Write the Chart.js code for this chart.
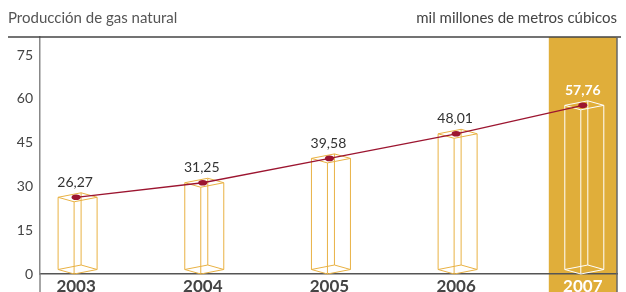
<!DOCTYPE html>
<html>
<head>
<meta charset="utf-8">
<script src="https://cdn.jsdelivr.net/npm/chart.js@4"></script>
<style>
  html, body { margin:0; padding:0; background:#fff; }
  #wrap { position:relative; width:626px; height:292px; }
  #title { position:absolute; left:8px; top:8px; font:15px Lato, sans-serif; color:#555; white-space:nowrap; }
  #unit { position:absolute; right:9px; top:8px; font:15px Lato, sans-serif; color:#444; white-space:nowrap; }
</style>
</head>
<body>
<div id="wrap">
  <div id="title">Producción de gas natural</div>
  <div id="unit">mil millones de metros cúbicos</div>
  <canvas id="chart" width="626" height="292"></canvas>
</div>
<script>
// datos
const years = [2003, 2004, 2005, 2006, 2007];
const gas = [26.27, 31.25, 39.58, 48.01, 57.76];
const yTicks = [0, 15, 30, 45, 60, 75];
const highlightYear = 2007;

const ORANGE = '#E9B244';
const BAND = '#E0AE3A';
const RED = '#9C1530';

const fmt = v => v.toFixed(2).replace('.', ',');

// cajas 3D, banda 2007 y lineas del marco
const boxesPlugin = {
  id: 'boxes',
  beforeDraw(chart) {
    // banda destacada, debajo de los ejes
    const { ctx, chartArea: a, scales: { x } } = chart;
    const bx = x.getPixelForValue(highlightYear);
    ctx.save();
    ctx.fillStyle = BAND;
    ctx.fillRect(bx - 34, a.top, a.right - (bx - 34), chart.height - a.top);
    ctx.restore();
  },
  beforeDatasetsDraw(chart) {
    const { ctx, chartArea: a, scales: { x, y } } = chart;
    const H = chart.height;
    ctx.save();
    // marco
    ctx.strokeStyle = '#444';
    ctx.lineWidth = 1.5;
    ctx.beginPath(); ctx.moveTo(8, a.top); ctx.lineTo(621, a.top); ctx.stroke();
    ctx.strokeStyle = '#666';
    ctx.beginPath(); ctx.moveTo(a.right, a.top); ctx.lineTo(a.right, H); ctx.stroke();
    ctx.strokeStyle = '#888';
    ctx.beginPath(); ctx.moveTo(a.left, a.bottom); ctx.lineTo(a.left, H); ctx.stroke();

    const base = y.getPixelForValue(0) - 4.5;
    years.forEach((yr, i) => {
      const px = x.getPixelForValue(yr);
      const py = y.getPixelForValue(gas[i]);
      ctx.strokeStyle = yr === highlightYear ? '#fff' : ORANGE;
      ctx.lineWidth = 1;
      const face = (cy) => ({
        L: [px - 18, cy], F: [px - 2, cy + 4.5], R: [px + 21, cy], B: [px + 5, cy - 4.5]
      });
      const t = face(py), b = face(base);
      ctx.beginPath();
      [t, b].forEach(f => {
        ctx.moveTo(...f.L); ctx.lineTo(...f.F); ctx.lineTo(...f.R); ctx.lineTo(...f.B); ctx.closePath();
      });
      ['L', 'F', 'R', 'B'].forEach(k => { ctx.moveTo(...t[k]); ctx.lineTo(...b[k]); });
      ctx.stroke();
    });
    ctx.restore();
  },
  afterDatasetsDraw(chart) {
    const { ctx, scales: { x, y } } = chart;
    ctx.save();
    years.forEach((yr, i) => {
      const px = x.getPixelForValue(yr);
      const py = y.getPixelForValue(gas[i]);
      ctx.fillStyle = RED;
      ctx.beginPath();
      ctx.ellipse(px, py, 4.5, 2.8, 0, 0, Math.PI * 2);
      ctx.fill();
      const hl = yr === highlightYear;
      ctx.fillStyle = hl ? '#fff' : '#333';
      ctx.font = (hl ? 'bold ' : '') + '14px Lato, sans-serif';
      ctx.textAlign = 'center';
      ctx.textBaseline = 'middle';
      ctx.fillText(fmt(gas[i]), px + (hl ? 0 : -1), py - 15);
    });
    ctx.restore();
  }
};

new Chart(document.getElementById('chart'), {
  type: 'line',
  data: {
    datasets: [{
      label: 'Producción de gas natural',
      data: years.map((yr, i) => ({ x: yr, y: gas[i] })),
      borderColor: RED,
      borderWidth: 1.3,
      pointRadius: 0,
      tension: 0
    }]
  },
  options: {
    responsive: false,
    animation: false,
    layout: { padding: { top: 37, right: 9, left: 0, bottom: 0 } },
    plugins: { legend: { display: false }, tooltip: { enabled: false } },
    scales: {
      x: {
        type: 'linear',
        min: 2002.715,
        max: 2007.27,
        afterBuildTicks: s => { s.ticks = years.map(v => ({ value: v })); },
        afterFit: s => { s.height = 18; },
        grid: { display: false, drawTicks: false },
        border: { display: true, color: '#555', width: 1.5 },
        ticks: {
          padding: 2,
          font: { family: 'Lato, sans-serif', size: 17, weight: 'bold' },
          color: c => c.tick && c.tick.value === highlightYear ? '#fff' : '#444',
          callback: v => String(v)
        }
      },
      y: {
        min: 0,
        max: 81.16,
        afterBuildTicks: s => { s.ticks = yTicks.map(v => ({ value: v })); },
        afterFit: s => { s.width = 40; },
        grid: { display: false, drawTicks: false },
        border: { display: true, color: '#888', width: 1.5 },
        ticks: {
          padding: 7,
          font: { family: 'Lato, sans-serif', size: 14 },
          color: '#444'
        }
      }
    }
  },
  plugins: [boxesPlugin]
});
</script>
</body>
</html>
